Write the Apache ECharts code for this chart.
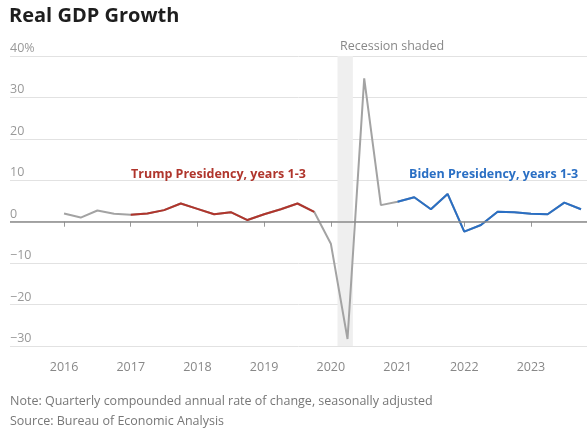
<!DOCTYPE html>
<html>
<head>
<meta charset="utf-8">
<script src="https://cdn.jsdelivr.net/npm/echarts@6/dist/echarts.min.js"></script>
<style>
  html, body { margin: 0; padding: 0; background: #fff; }
  #chart { width: 587px; height: 433px; }
</style>
</head>
<body>
<div id="chart"></div>
<script>
// Quarterly real GDP growth, annualized, 2016 Q1 – 2023 Q4
const years = [2016, 2017, 2018, 2019, 2020, 2021, 2022, 2023];
const growth = [
  2.0, 1.0, 2.7, 1.9,      // 2016
  1.7, 2.0, 2.8, 4.4,      // 2017
  3.1, 1.8, 2.3, 0.4,      // 2018
  1.8, 3.0, 4.4, 2.4,      // 2019
  -5.3, -28.3, 34.6, 4.0,  // 2020
  4.8, 5.9, 3.0, 6.7,      // 2021
  -2.4, -0.8, 2.4, 2.3,    // 2022
  1.9, 1.8, 4.6, 3.0       // 2023
];
// quarter positions in fractional years
const quarters = growth.map((_, i) => years[0] + i / 4);
const yTicks = [-30, -20, -10, 0, 10, 20, 30, 40];

// presidency spans, as index ranges into the quarterly series
const trumpSpan = [4, 15];   // 2017 Q1 – 2019 Q4
const bidenSpan = [20, 31];  // 2021 Q1 – 2023 Q4
const recession = [2020.1, 2020.33];

const pts = (a, b) => quarters.slice(a, b + 1).map((q, k) => [q, growth[a + k]]);

const FONT = '"Open Sans", Roboto, sans-serif';

const chart = echarts.init(document.getElementById('chart'), null, { renderer: 'canvas' });
chart.setOption({
  animation: false,
  backgroundColor: '#ffffff',
  textStyle: { fontFamily: FONT },
  grid: { left: 10, right: 0, top: 56, bottom: 87 },
  xAxis: {
    type: 'value',
    min: 2015.19,
    max: 2023.84,
    splitLine: { show: false },
    axisLine: { show: false },
    axisTick: { show: true, customValues: years, length: 5, lineStyle: { color: '#999' } },
    axisLabel: {
      customValues: years, color: '#888', fontSize: 12.5, margin: 15, fontFamily: FONT,
      formatter: v => String(v)
    }
  },
  yAxis: {
    type: 'value',
    min: yTicks[0],
    max: yTicks[yTicks.length - 1],
    interval: 10,
    axisLine: { show: false },
    axisTick: { show: false },
    splitLine: { lineStyle: { color: '#e2e2e2', width: 1 } },
    axisLabel: {
      inside: true,
      margin: 0,
      verticalAlign: 'bottom',
      padding: [0, 0, 1, 0],
      color: '#999',
      fontSize: 12.5,
      fontFamily: FONT,
      formatter: v => v === 40 ? '40%' : (v < 0 ? '\u2212' + Math.abs(v) : String(v))
    }
  },
  series: [
    {
      type: 'line',
      data: quarters.map((q, i) => [q, growth[i]]),
      symbol: 'none',
      lineStyle: { color: '#a3a3a3', width: 2 },
      z: 2,
      markArea: {
        silent: true,
        itemStyle: { color: '#efefef' },
        data: [[{ xAxis: recession[0] }, { xAxis: recession[1] }]]
      },
      markLine: {
        silent: true,
        symbol: 'none',
        label: { show: false },
        lineStyle: { color: '#8a8a8a', width: 1.5, type: 'solid' },
        data: [{ yAxis: 0 }]
      }
    },
    {
      type: 'line',
      data: pts(trumpSpan[0], trumpSpan[1]),
      symbol: 'none',
      lineStyle: { color: '#b0352c', width: 2 },
      z: 3
    },
    {
      type: 'line',
      data: pts(bidenSpan[0], bidenSpan[1]),
      symbol: 'none',
      lineStyle: { color: '#2a6fc4', width: 2 },
      z: 3
    }
  ],
  graphic: [
    { type: 'text', z: 100, left: 9, top: 6, style: { text: 'Real GDP Growth', fill: '#1e1e1e', font: 'bold 20px ' + FONT } },
    { type: 'text', z: 100, left: 340, top: 40, style: { text: 'Recession shaded', fill: '#888', font: '12.5px ' + FONT } },
    { type: 'text', z: 100, left: 131, top: 168, style: { text: 'Trump Presidency, years 1-3', fill: '#b0352c', font: 'bold 12.5px ' + FONT } },
    { type: 'text', z: 100, left: 409, top: 168, style: { text: 'Biden Presidency, years 1-3', fill: '#2a6fc4', font: 'bold 12.5px ' + FONT } },
    { type: 'text', z: 100, left: 10, top: 395, style: { text: 'Note: Quarterly compounded annual rate of change, seasonally adjusted', fill: '#777', font: '12.5px ' + FONT } },
    { type: 'text', z: 100, left: 10, top: 415, style: { text: 'Source: Bureau of Economic Analysis', fill: '#777', font: '12.5px ' + FONT } }
  ]
});
</script>
</body>
</html>
